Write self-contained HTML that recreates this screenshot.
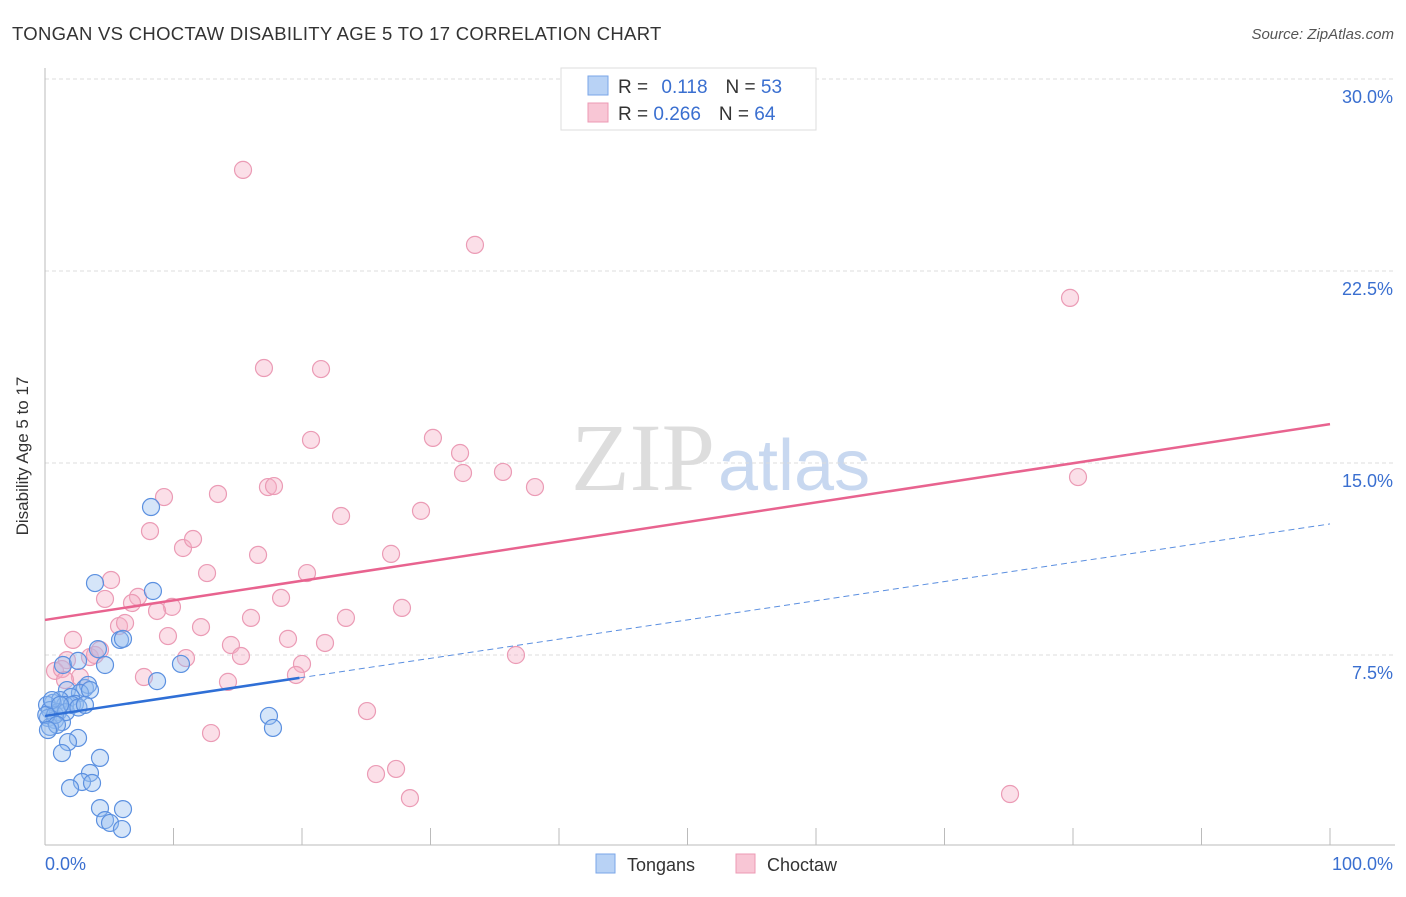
<!DOCTYPE html>
<html><head><meta charset="utf-8"><style>
body{margin:0;background:#fff;font-family:"Liberation Sans",sans-serif;}
</style></head><body>
<svg width="1406" height="892" viewBox="0 0 1406 892" xmlns="http://www.w3.org/2000/svg">
<text x="12" y="40" font-size="18.5" letter-spacing="0.3" fill="#333">TONGAN VS CHOCTAW DISABILITY AGE 5 TO 17 CORRELATION CHART</text>
<text x="1394" y="39" font-size="15" fill="#555" font-style="italic" text-anchor="end">Source: ZipAtlas.com</text>
<text x="715" y="490" font-size="96" fill="#ddd" text-anchor="end" font-family="Liberation Serif,serif">ZIP</text>
<text x="718" y="490" font-size="72" fill="#c8d8f0">atlas</text>
<g id="grid"></g>
<line x1="45" y1="68" x2="45" y2="845" stroke="#bbb"/>
<line x1="45" y1="845" x2="1395" y2="845" stroke="#bbb"/>
<g id="xticks"></g>
<text x="28" y="456" font-size="17" fill="#333" text-anchor="middle" transform="rotate(-90 28 456)">Disability Age 5 to 17</text>
<text x="45" y="870" font-size="18" fill="#3a6fd0">0.0%</text>
<text x="1393" y="870" font-size="18" fill="#3a6fd0" text-anchor="end">100.0%</text>
<g id="pts"></g>
<g id="lines"></g>
<g>
<rect x="561" y="68" width="255" height="62" fill="#fff" stroke="#ddd"/>
<rect x="588" y="76" width="20" height="19" fill="#b8d2f5" stroke="#7aa6e8"/>
<rect x="588" y="103" width="20" height="19" fill="#f8c6d5" stroke="#ec9ab4"/>
<text x="618" y="93" font-size="19" fill="#333">R = <tspan fill="#3a6fd0" dx="8">0.118</tspan><tspan dx="18">N = </tspan><tspan fill="#3a6fd0">53</tspan></text>
<text x="618" y="120" font-size="19" fill="#333">R = <tspan fill="#3a6fd0">0.266</tspan><tspan dx="18">N = </tspan><tspan fill="#3a6fd0">64</tspan></text>
</g>
<g>
<rect x="596" y="854" width="19" height="19" fill="#b8d2f5" stroke="#7aa6e8"/>
<text x="627" y="871" font-size="18" fill="#333">Tongans</text>
<rect x="736" y="854" width="19" height="19" fill="#f8c6d5" stroke="#ec9ab4"/>
<text x="767" y="871" font-size="18" fill="#333">Choctaw</text>
</g>
</svg>
<script>
const yTicks=[7.5,15,22.5,30];
const yTickLabels=["7.5%","15.0%","22.5%","30.0%"];
const xTicks=[0,10,20,30,40,50,60,70,80,90,100];
const blueX=[8.25,3.89,8.40,4.12,5.84,6.07,1.40,4.67,2.57,10.58,8.72,3.11,1.71,3.35,2.72,2.02,0.62,1.17,0.16,0.39,2.33,1.56,1.01,0.23,0.78,1.32,0.39,17.43,17.74,2.57,1.79,1.32,4.28,3.50,2.88,3.66,1.95,4.28,6.07,4.67,5.06,5.99,0.78,0.1,0.54,1.63,2.10,3.50,0.93,2.6,1.17,0.23,3.11];
const blueY=[13.28,10.31,10.0,7.73,8.09,8.13,7.11,7.11,7.27,7.15,6.48,6.21,6.13,6.33,6.02,5.86,5.63,5.74,5.55,5.35,5.59,5.55,5.27,5.04,4.96,4.88,4.69,5.12,4.65,4.26,4.10,3.67,3.48,2.89,2.54,2.50,2.30,1.52,1.48,1.05,0.94,0.70,5.16,5.16,5.74,5.27,5.55,6.13,4.77,5.45,5.55,4.57,5.55];
const pinkX=[15.41,33.46,79.77,17.04,21.48,20.70,30.19,32.30,32.53,35.64,38.13,80.39,9.26,13.46,17.35,17.82,8.17,10.74,11.52,23.04,29.26,16.58,26.93,5.14,12.61,20.39,4.67,7.24,6.77,9.88,8.72,18.37,27.78,23.42,16.03,12.14,5.76,6.23,9.57,14.47,2.18,18.91,21.79,3.50,3.89,1.71,10.97,15.25,20.00,0.78,1.32,2.72,7.70,19.53,36.65,14.24,25.06,12.92,25.76,27.32,28.40,75.10,1.56,4.28];
const pinkY=[26.45,23.52,21.45,18.71,18.67,15.90,15.98,15.39,14.61,14.65,14.06,14.45,13.67,13.79,14.06,14.10,12.34,11.68,12.03,12.93,13.13,11.41,11.45,10.43,10.70,10.70,9.69,9.77,9.53,9.38,9.22,9.73,9.34,8.95,8.95,8.59,8.63,8.75,8.24,7.89,8.09,8.13,7.97,7.42,7.50,7.30,7.38,7.46,7.15,6.88,6.95,6.64,6.64,6.72,7.50,6.45,5.31,4.45,2.85,3.05,1.91,2.07,6.52,7.70];
const blueTrend=[5.12,12.62];
const blueSolidEnd=19.8;
const pinkTrend=[8.87,16.52];
const sx=v=>45+v*12.85, sy=v=>847-v*25.6;
const NS="http://www.w3.org/2000/svg";
function mk(t,a,p){const e=document.createElementNS(NS,t);for(const k in a)e.setAttribute(k,a[k]);p.appendChild(e);return e;}
const grid=document.getElementById('grid');
yTicks.forEach((v,i)=>{
 const l=mk('line',{x1:45,x2:1395,y1:sy(v),y2:sy(v),stroke:'#ddd','stroke-dasharray':'4,3'},grid);
 
 
 const t=mk('text',{x:1393,y:sy(v)+24,'font-size':18,fill:'#3a6fd0','text-anchor':'end'},grid);
 t.textContent=yTickLabels[i];
 
 
});
const xt=document.getElementById('xticks');
xTicks.forEach(v=>{
 const l=mk('line',{x1:sx(v),x2:sx(v),y1:828,y2:845,stroke:'#bbb'},xt);
 
 
});
const pts=document.getElementById('pts');
pinkX.forEach((x,i)=>{
 const c=mk('circle',{cx:sx(x),cy:sy(pinkY[i]),r:8.5,fill:'rgba(245,175,198,0.4)',stroke:'#eb9bb5','stroke-width':1.2},pts);
 
 
});
blueX.forEach((x,i)=>{
 const c=mk('circle',{cx:sx(x),cy:sy(blueY[i]),r:8.5,fill:'rgba(150,190,240,0.4)',stroke:'#5b90e0','stroke-width':1.2},pts);
 
 
});
const lg=document.getElementById('lines');
const bAt=x=>blueTrend[0]+(blueTrend[1]-blueTrend[0])*x/100;
let l1=mk('line',{x1:sx(0),y1:sy(pinkTrend[0]),x2:sx(100),y2:sy(pinkTrend[1]),stroke:'#e8638f','stroke-width':2.5},lg);


let l2=mk('line',{x1:sx(0),y1:sy(bAt(0)),x2:sx(blueSolidEnd),y2:sy(bAt(blueSolidEnd)),stroke:'#2f6fd6','stroke-width':2.5},lg);


let l3=mk('line',{x1:sx(blueSolidEnd),y1:sy(bAt(blueSolidEnd)),x2:sx(100),y2:sy(bAt(100)),stroke:'#5b8fe0','stroke-width':1,'stroke-dasharray':'6,4'},lg);


</script>
</body></html>
